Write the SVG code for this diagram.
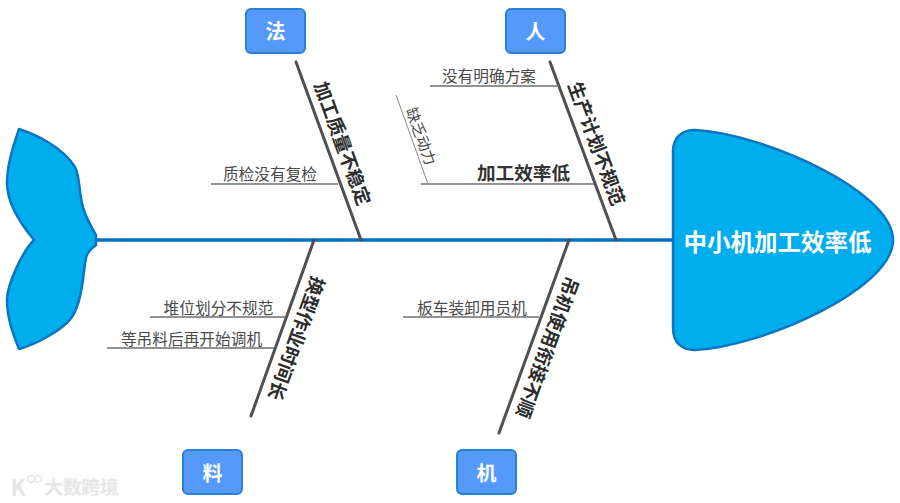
<svg xmlns="http://www.w3.org/2000/svg" width="900" height="503" viewBox="0 0 900 503">
<style>
text{font-family:"Noto Sans CJK SC","Noto Sans",sans-serif;text-anchor:middle;dominant-baseline:central}
.cat rect{fill:#5599fb;stroke:#2a80d2;stroke-width:2}
.cat text{fill:#fff;font-size:20px;font-weight:700}
.fish{fill:#00adef;stroke:#0b76bd;stroke-width:2.5;stroke-linejoin:round}
.spine{stroke:#0070c0;stroke-width:3.5;fill:none}
.bone{stroke:#505050;stroke-width:3;fill:none;stroke-linecap:round}
.sub{stroke:#6e6e6e;stroke-width:1.3;fill:none}
.thin{stroke:#8a8a8a;stroke-width:1;fill:none}
.bl{fill:#2c2c2c;font-size:18.600px;font-weight:700}
.sl{fill:#4a4a4a;font-size:15.700px}
.wm{fill:#e4e4e4;stroke:#efefef;stroke-width:.5}
</style>
<g id="connectors">
<path class="spine" d="M96 240H673"/>
<path class="bone" d="M296 62L361 240"/>
<path class="bone" d="M550 62L616 240"/>
<path class="bone" d="M314 240L251 416"/>
<path class="bone" d="M569 240L499 433"/>
<path class="sub" d="M211 184H338"/>
<path class="sub" d="M430 86H559"/>
<path class="sub" d="M421 184H594"/>
<path class="sub" d="M150 317H285"/>
<path class="sub" d="M107 348H274"/>
<path class="sub" d="M403 317H539"/>
<path class="thin" d="M396 95L428 184"/>
</g>
<g id="tail"><path class="fish" d="M19 129C34 134 62 146 75 167C81 178 78 197 85 213C88 222 93 229 96 235V245C92 248 87 252 86 258C83 272 83 300 72 317C62 331 34 345 19 349C13 334 7 318 7 300C7 285 22 252 34 240C24 228 7 205 7 183C7 164 14 144 19 129Z"/></g>
<g id="head">
<path class="fish" d="M673 152C673 137 682 130 695 130C760 133 893 190 893 240C893 290 760 347 695 350C682 350 673 343 673 328Z"/>
<text x="777.500" y="241" font-size="23.500" font-weight="700" fill="#fff">中小机加工效率低</text>
</g>
<g id="cat-fa" class="cat"><rect x="246" y="9" width="59" height="44" rx="5"/><text x="275.500" y="30">法</text></g>
<g id="cat-ren" class="cat"><rect x="506" y="9" width="59" height="44" rx="5"/><text x="535.500" y="30">人</text></g>
<g id="cat-liao" class="cat"><rect x="183" y="450" width="59" height="44" rx="5"/><text x="212.500" y="472">料</text></g>
<g id="cat-ji" class="cat"><rect x="457" y="450" width="59" height="44" rx="5"/><text x="486.500" y="472">机</text></g>
<g id="cause-fa"><text class="bl" transform="translate(344 143) rotate(70)">加工质量不稳定</text></g>
<g id="cause-ren"><text class="bl" transform="translate(598 143) rotate(70)">生产计划不规范</text></g>
<g id="cause-liao"><text class="bl" transform="translate(298 339) rotate(110)">换型作业时间长</text></g>
<g id="cause-ji"><text class="bl" transform="translate(549 348) rotate(110)">吊机使用衔接不顺</text></g>
<g id="sub-1"><text class="sl" x="270" y="173">质检没有复检</text></g>
<g id="sub-2"><text class="sl" x="489" y="75">没有明确方案</text></g>
<g id="sub-3"><text x="523.500" y="171" font-size="18.600" font-weight="700" fill="#333">加工效率低</text></g>
<g id="sub-4"><text fill="#4a4a4a" font-size="15" transform="translate(422 136) rotate(70)">缺乏动力</text></g>
<g id="sub-5"><text class="sl" x="218.500" y="307">堆位划分不规范</text></g>
<g id="sub-6"><text class="sl" x="191.500" y="338">等吊料后再开始调机</text></g>
<g id="sub-7"><text class="sl" x="472" y="307">板车装卸用员机</text></g>
<g id="watermark">
<text class="wm" x="18" y="486" font-size="22" font-weight="700">K</text>
<circle cx="31" cy="479" r="3.500" fill="none" stroke="#e4e4e4" stroke-width="1.500"/>
<circle cx="38" cy="479" r="3.500" fill="none" stroke="#e4e4e4" stroke-width="1.500"/>
<text class="wm" x="81.500" y="486" font-size="18.500" font-weight="700">大数跨境</text>
</g>
</svg>
